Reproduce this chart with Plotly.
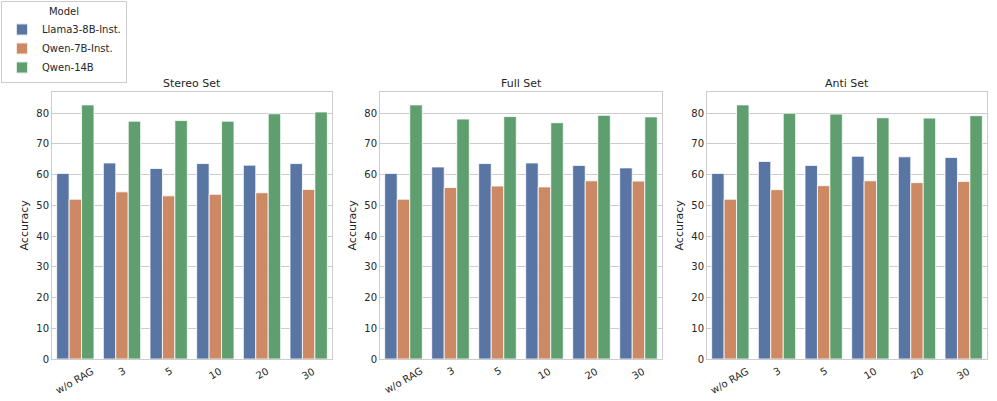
import plotly.graph_objects as go

categories = ["w/o RAG", "3", "5", "10", "20", "30"]
models = ["Llama3-8B-Inst.", "Qwen-7B-Inst.", "Qwen-14B"]
panels = ["Stereo Set", "Full Set", "Anti Set"]

stereo_llama = [60.4, 63.8, 62.0, 63.6, 63.1, 63.6]
stereo_qwen7 = [52.0, 54.4, 53.1, 53.6, 54.1, 55.2]
stereo_qwen14 = [82.7, 77.4, 77.6, 77.4, 79.8, 80.4]

full_llama = [60.4, 62.5, 63.6, 63.8, 63.0, 62.2]
full_qwen7 = [52.0, 55.8, 56.3, 56.0, 58.0, 57.9]
full_qwen14 = [82.7, 78.1, 78.9, 76.9, 79.3, 78.8]

anti_llama = [60.4, 64.3, 63.0, 66.0, 65.8, 65.6]
anti_qwen7 = [52.0, 55.1, 56.4, 58.0, 57.4, 57.8]
anti_qwen14 = [82.7, 80.0, 79.7, 78.5, 78.4, 79.2]

data = [
    [stereo_llama, stereo_qwen7, stereo_qwen14],
    [full_llama, full_qwen7, full_qwen14],
    [anti_llama, anti_qwen7, anti_qwen14],
]
colors = ["#5975A4", "#CC8963", "#5F9E6E"]

W, H = 997, 401
ML, MR, MT, MB = 52, 10, 92, 42
PW = W - ML - MR
PH = H - MT - MB
x_px = [(52, 332), (380, 662), (707, 987)]
ylab_px = [24, 352, 679]

def fx(px):
    return (px - ML) / PW

def fy(py):
    return (H - MB - py) / PH

fig = go.Figure()
font_fam = "DejaVu Sans, sans-serif"
tick_color = "#262626"

for p in range(3):
    xa = "x" if p == 0 else f"x{p+1}"
    ya = "y" if p == 0 else f"y{p+1}"
    for m in range(3):
        fig.add_trace(go.Bar(
            x=categories, y=data[p][m], name=models[m],
            marker=dict(color=colors[m], line=dict(color="rgba(255,255,255,0.8)", width=1)),
            xaxis=xa, yaxis=ya, offsetgroup=str(m),
            showlegend=(p == 0), legendgroup=models[m],
        ))
    axsuffix = "" if p == 0 else str(p + 1)
    fig.update_layout(**{
        f"xaxis{axsuffix}": dict(
            domain=[fx(x_px[p][0]), fx(x_px[p][1])], anchor=ya,
            type="category", range=[-0.5, 5.5], showticklabels=False,
            showgrid=False, showline=True, mirror=True, linecolor="#cccccc",
            linewidth=1, ticks="", automargin=False,
        ),
        f"yaxis{axsuffix}": dict(
            domain=[0, 1], anchor=xa, range=[0, 86.9], tickvals=list(range(0, 81, 10)),
            showgrid=True, gridcolor="#cccccc", gridwidth=1,
            showline=True, mirror=True, linecolor="#cccccc", linewidth=1,
            zeroline=False, ticks="", automargin=False,
            tickfont=dict(size=10, color=tick_color, family=font_fam),
        ),
    })
    # rotated category labels, centred under each tick (matplotlib style)
    for i, c in enumerate(categories):
        fig.add_annotation(text=c, x=i, xref=xa, y=fy(363), yref="paper",
                           showarrow=False, xanchor="center", yanchor="top",
                           textangle=-30,
                           font=dict(size=10, color=tick_color, family=font_fam))
    cx = fx((x_px[p][0] + x_px[p][1]) / 2)
    fig.add_annotation(text=panels[p], x=cx, y=fy(84), xref="paper", yref="paper",
                       showarrow=False, xanchor="center", yanchor="middle",
                       font=dict(size=11, color=tick_color, family=font_fam))
    fig.add_annotation(text="Accuracy", x=fx(ylab_px[p]), y=fy((MT + H - MB) / 2),
                       xref="paper", yref="paper", showarrow=False, textangle=-90,
                       xanchor="center", yanchor="middle",
                       font=dict(size=11, color=tick_color, family=font_fam))

fig.update_layout(
    width=W, height=H, autosize=False,
    margin=dict(l=ML, r=MR, t=MT, b=MB, autoexpand=False),
    paper_bgcolor="white", plot_bgcolor="white",
    barmode="group", bargap=0.2, bargroupgap=0,
    font=dict(family=font_fam, size=10, color=tick_color),
    legend=dict(
        x=fx(1), y=fy(1), xanchor="left", yanchor="top",
        title=dict(text="Model", side="top center", font=dict(size=10, color=tick_color)),
        bordercolor="#cccccc", borderwidth=1, bgcolor="white",
        font=dict(size=10, color=tick_color), tracegroupgap=0,
        itemsizing="constant",
    ),
)

fig.write_html("out.html", config={"displayModeBar": False},
               post_script="document.body.style.margin='0';document.body.style.overflow='hidden';")
